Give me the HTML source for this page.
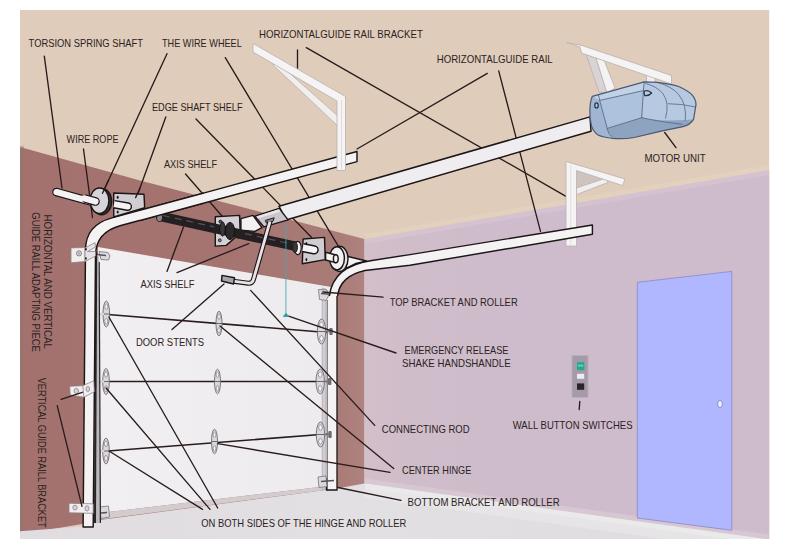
<!DOCTYPE html>
<html lang="en">
<head>
<meta charset="utf-8">
<title>Garage door structure diagram</title>
<style>
html,body{margin:0;padding:0;background:#fff;}
body{width:790px;height:548px;overflow:hidden;position:relative;font-family:"Liberation Sans",sans-serif;}
svg{position:absolute;left:0;top:0;display:block;}
svg text{font-family:"Liberation Sans",sans-serif;font-size:10.8px;fill:#2b2222;}
.ld{stroke:#2a1c1c;stroke-width:1.35;fill:none;stroke-linecap:round;}
.ol{stroke:#1c1616;stroke-width:1.45;stroke-linejoin:round;}
</style>
</head>
<body>
<svg width="790" height="548" viewBox="0 0 790 548">
<defs>
  <linearGradient id="gBrown" gradientUnits="userSpaceOnUse" x1="20" y1="0" x2="365" y2="0">
    <stop offset="0" stop-color="#a4726e"/>
    <stop offset="0.6" stop-color="#a57470"/>
    <stop offset="0.92" stop-color="#a97b77"/>
    <stop offset="1" stop-color="#ae8380"/>
  </linearGradient>
  <linearGradient id="gLav" gradientUnits="userSpaceOnUse" x1="365" y1="0" x2="769" y2="0">
    <stop offset="0" stop-color="#d3bfca"/>
    <stop offset="0.1" stop-color="#d0bdca"/>
    <stop offset="0.35" stop-color="#cebccc"/>
    <stop offset="1" stop-color="#cebccd"/>
  </linearGradient>
  <linearGradient id="gDoor" x1="0" y1="0" x2="1" y2="0">
    <stop offset="0" stop-color="#f1eff1"/>
    <stop offset="1" stop-color="#eeebef"/>
  </linearGradient>
  <linearGradient id="gFloor" x1="0" y1="0" x2="1" y2="0">
    <stop offset="0" stop-color="#e0dce0"/>
    <stop offset="0.45" stop-color="#e3e0e3"/>
    <stop offset="1" stop-color="#dfdcdf"/>
  </linearGradient>
  <clipPath id="r1c"><rect x="140" y="190" width="64" height="36"/></clipPath>
  <clipPath id="pic"><rect x="20" y="10" width="749.2" height="529"/></clipPath>
</defs>
<rect x="0" y="0" width="790" height="548" fill="#ffffff"/>
<g clip-path="url(#pic)">
<!-- BACKGROUND -->
<g id="bg">
  <rect x="20" y="10" width="750" height="530" fill="#dfccba"/>
  <!-- front (brown) wall -->
  <polygon points="20,147 140,180.5 364.4,239 364.4,485.5 100,521 20,534.5" fill="url(#gBrown)"/>
  <rect x="20" y="146" width="4" height="390" fill="#8c7868" opacity="0.4"/>
  <!-- right (lavender) wall -->
  <polygon points="364.4,239 770,170 770,540 364.4,483.5" fill="url(#gLav)"/>
  <!-- floor -->
  <polygon points="20,531.2 83,526.6 100,520 337,488.5 364.4,483.5 769,539.5 769,540 20,540" fill="url(#gFloor)"/>
  <!-- soft light bands at wall/floor and wall/ceiling junctions -->
  <path d="M365 490.5 L769 546.5" stroke="#ebe9eb" stroke-width="14" opacity="0.55" fill="none"/>
  <path d="M365 486 L769 542" stroke="#ecebec" stroke-width="5" opacity="0.8" fill="none"/>
  <path d="M365 481 L769 537" stroke="#dccfd9" stroke-width="5" opacity="0.55" fill="none"/>
  <path d="M365 241.5 L769 172.5" stroke="#d8c6d4" stroke-width="5" opacity="0.6" fill="none"/>
  <path d="M365 236.5 L769 167.5" stroke="#e6d2c0" stroke-width="5" opacity="0.6" fill="none"/>
</g>
<!-- GARAGE DOOR -->
<g id="door">
  <polygon points="98,247 337,288 337,485 100,513" fill="url(#gDoor)"/>
  <!-- shadow under door -->
  <polygon points="100,513 337,485 337,488.5 100,519.5" fill="#d3ccce"/>
  <!-- right edge band (track seen from side) -->
  <!-- section lines -->
  <path class="ld" style="stroke-width:1.6" d="M108 314.5 L327 332.5 M108 381.5 L327 381.5 M108 451 L327 434"/>
</g>
<!-- ROOM FIXTURES -->
<g id="fixtures">
  <polygon points="637.3,282.3 731.8,271.4 731.8,530.3 637.3,518" fill="#b0b7fe" stroke="#8d8fca" stroke-width="0.9"/>
  <ellipse cx="720" cy="404" rx="2.4" ry="3.6" fill="#eef0fb" stroke="#8086c8" stroke-width="0.9"/>
  <rect x="572" y="355.5" width="16" height="42" rx="0.8" fill="#a59aa7" stroke="#b9aeb9" stroke-width="0.9"/>
  <rect x="577" y="362.2" width="7.3" height="8" fill="#22a88c"/>
  <rect x="578" y="364.6" width="5.3" height="2" fill="#5fd0b8"/>
  <rect x="577" y="373.8" width="7.2" height="5" fill="#eeecf0"/>
  <rect x="577" y="383.4" width="7.2" height="6.4" fill="#2a2428"/>
</g>
<!-- DOOR HARDWARE -->
<g id="hardware">
  <polygon points="322.2,288 326,289 326,489 322.2,489.5" fill="#d2cdd3" stroke="#aaa4ab" stroke-width="0.7"/>
  <polygon points="327.3,294 337,294 337,490 327.3,490" fill="#f4f2f3"/>
  <path d="M327.3 300 L327.3 490" stroke="#4a4448" stroke-width="0.8" fill="none"/>
  <path d="M337 294 L337 490 L326.5 490 L326.5 478" stroke="#1c1616" stroke-width="1.3" fill="none"/>
  <g transform="translate(106.3,314)"><ellipse rx="3.3" ry="13" fill="#dcd9dd" stroke="#6f6b72" stroke-width="0.9"/><ellipse cy="-7.2" rx="1.5" ry="2.9" fill="#f4f2f4" stroke="#7d7980" stroke-width="0.7"/><ellipse cy="7.2" rx="1.5" ry="2.9" fill="#f4f2f4" stroke="#7d7980" stroke-width="0.7"/><path d="M-3.3 0 L3.3 0" stroke="#5f5b62" stroke-width="0.9"/></g>
  <g transform="translate(106,381.5)"><ellipse rx="3.3" ry="13" fill="#dcd9dd" stroke="#6f6b72" stroke-width="0.9"/><ellipse cy="-7.2" rx="1.5" ry="2.9" fill="#f4f2f4" stroke="#7d7980" stroke-width="0.7"/><ellipse cy="7.2" rx="1.5" ry="2.9" fill="#f4f2f4" stroke="#7d7980" stroke-width="0.7"/><path d="M-3.3 0 L3.3 0" stroke="#5f5b62" stroke-width="0.9"/></g>
  <g transform="translate(106,451)"><ellipse rx="3.3" ry="13" fill="#dcd9dd" stroke="#6f6b72" stroke-width="0.9"/><ellipse cy="-7.2" rx="1.5" ry="2.9" fill="#f4f2f4" stroke="#7d7980" stroke-width="0.7"/><ellipse cy="7.2" rx="1.5" ry="2.9" fill="#f4f2f4" stroke="#7d7980" stroke-width="0.7"/><path d="M-3.3 0 L3.3 0" stroke="#5f5b62" stroke-width="0.9"/></g>
  <g transform="translate(219,323.5)"><ellipse rx="3" ry="12.3" fill="#dcd9dd" stroke="#6f6b72" stroke-width="0.9"/><ellipse cy="-6.8" rx="1.4" ry="2.7" fill="#f4f2f4" stroke="#7d7980" stroke-width="0.7"/><ellipse cy="6.8" rx="1.4" ry="2.7" fill="#f4f2f4" stroke="#7d7980" stroke-width="0.7"/><path d="M-3 0 L3 0" stroke="#5f5b62" stroke-width="0.9"/></g>
  <g transform="translate(217.5,381.5)"><ellipse rx="3" ry="12.3" fill="#dcd9dd" stroke="#6f6b72" stroke-width="0.9"/><ellipse cy="-6.8" rx="1.4" ry="2.7" fill="#f4f2f4" stroke="#7d7980" stroke-width="0.7"/><ellipse cy="6.8" rx="1.4" ry="2.7" fill="#f4f2f4" stroke="#7d7980" stroke-width="0.7"/><path d="M-3 0 L3 0" stroke="#5f5b62" stroke-width="0.9"/></g>
  <g transform="translate(214.5,441.5)"><ellipse rx="3" ry="12.3" fill="#dcd9dd" stroke="#6f6b72" stroke-width="0.9"/><ellipse cy="-6.8" rx="1.4" ry="2.7" fill="#f4f2f4" stroke="#7d7980" stroke-width="0.7"/><ellipse cy="6.8" rx="1.4" ry="2.7" fill="#f4f2f4" stroke="#7d7980" stroke-width="0.7"/><path d="M-3 0 L3 0" stroke="#5f5b62" stroke-width="0.9"/></g>
  <g transform="translate(321.5,331.5)"><ellipse rx="4.2" ry="12.5" fill="#dcd9dd" stroke="#6f6b72" stroke-width="0.9"/><ellipse cy="-6.9" rx="1.9" ry="2.8" fill="#f4f2f4" stroke="#7d7980" stroke-width="0.7"/><ellipse cy="6.9" rx="1.9" ry="2.8" fill="#f4f2f4" stroke="#7d7980" stroke-width="0.7"/><path d="M-4.2 0 L4.2 0" stroke="#5f5b62" stroke-width="0.9"/></g>
  <rect x="329.3" y="328.0" width="3.4" height="7" rx="1" fill="#6f6b70"/>
  <path d="M324.5 331.5 L330.5 331.5" stroke="#77737a" stroke-width="1.6"/>
  <g transform="translate(320.2,381.5)"><ellipse rx="4.2" ry="12.5" fill="#dcd9dd" stroke="#6f6b72" stroke-width="0.9"/><ellipse cy="-6.9" rx="1.9" ry="2.8" fill="#f4f2f4" stroke="#7d7980" stroke-width="0.7"/><ellipse cy="6.9" rx="1.9" ry="2.8" fill="#f4f2f4" stroke="#7d7980" stroke-width="0.7"/><path d="M-4.2 0 L4.2 0" stroke="#5f5b62" stroke-width="0.9"/></g>
  <rect x="328.0" y="378.0" width="3.4" height="7" rx="1" fill="#6f6b70"/>
  <path d="M323.2 381.5 L329.2 381.5" stroke="#77737a" stroke-width="1.6"/>
  <g transform="translate(320.5,434.5)"><ellipse rx="4.2" ry="12.5" fill="#dcd9dd" stroke="#6f6b72" stroke-width="0.9"/><ellipse cy="-6.9" rx="1.9" ry="2.8" fill="#f4f2f4" stroke="#7d7980" stroke-width="0.7"/><ellipse cy="6.9" rx="1.9" ry="2.8" fill="#f4f2f4" stroke="#7d7980" stroke-width="0.7"/><path d="M-4.2 0 L4.2 0" stroke="#5f5b62" stroke-width="0.9"/></g>
  <rect x="328.3" y="431.0" width="3.4" height="7" rx="1" fill="#6f6b70"/>
  <path d="M323.5 434.5 L329.5 434.5" stroke="#77737a" stroke-width="1.6"/>
  <path d="M94 314 L104 314" stroke="#d9d6da" stroke-width="2.2"/>
  <path d="M94 381.5 L104 381.5" stroke="#d9d6da" stroke-width="2.2"/>
  <path d="M94 451 L104 451" stroke="#d9d6da" stroke-width="2.2"/>
  <path d="M99 251.5 L108 252.5 L110 256 L108.5 260 L101 259.5 Z" fill="#dcd9dc" stroke="#77737a" stroke-width="0.8"/>
  <path d="M96 254.5 L106 255.5" stroke="#55525a" stroke-width="1.4"/>
  <path d="M99.5 507 L108.5 506 L109.5 517 L101 518.5 Z" fill="#dcd9dc" stroke="#77737a" stroke-width="0.8"/>
  <path d="M95 513.5 L107 512.5" stroke="#55525a" stroke-width="1.4"/>
  <path d="M318.5 289.5 L327 290 L328.5 296 L326 300.5 L319.5 299.5 Z" fill="#dcd9dc" stroke="#77737a" stroke-width="0.8"/>
  <path d="M321 293.5 L334 294.5" stroke="#55525a" stroke-width="1.4"/>
  <path d="M318 477 L326 476 L327 486.5 L319 487.5 Z" fill="#dcd9dc" stroke="#77737a" stroke-width="0.8"/>
  <path d="M321 481.5 L334 480.5" stroke="#55525a" stroke-width="1.4"/>
</g>
<!-- LEADER LINES -->
<g id="leaders" class="ld">
  <path d="M44.3 56.2 L62 188"/>
  <path d="M167 53.7 L102.5 193.3"/>
  <path d="M225.3 57.7 L338 245.6"/>
  <path d="M165.8 117 L136.7 197"/>
  <path d="M196 119 L311.4 237.2"/>
  <path d="M83.5 149 L92.5 217.5"/>
  <path d="M185.5 174 L222 216"/>
  <path d="M167 271.4 L183.5 227"/>
  <path d="M177 272.6 L248.7 243.6"/>
  <path d="M172 329.6 L224 284"/>
  <path d="M297.5 50 L297.5 68.4"/>
  <path d="M306.3 47.6 L566 196.3"/>
  <path d="M487.3 73.4 L357 149"/>
  <path d="M498.7 70.9 L540.5 231.3"/>
  <path d="M676 147.7 L664.7 132.5"/>
  <path d="M396 353 L288.6 316.2"/>
  <path d="M250.6 290.4 L374.7 425.4"/>
  <path d="M220 326 L393.7 468.5"/>
  <path d="M217.7 443.7 L390 472.3"/>
  <path d="M338 487.5 L401 500.3"/>
  <path d="M108.9 317 L217.7 508"/>
  <path d="M106 388 L210 509.4"/>
  <path d="M109 451 L202.5 509.4"/>
  <path d="M579.8 401.5 L579.2 409.5"/>
</g>
<!-- CEILING BRACKETS -->
<g id="brackets" stroke="#b9b1b0" stroke-width="0.8" stroke-linejoin="round">
  <!-- right hanging bracket -->
  <polygon fill="#cdc3bf" stroke="none" points="576.5,170.5 603,178.6 576.5,189"/>
  <polygon fill="#f1eeef" points="576.5,188 606,178 608,182.5 576.5,194.5"/>
  <polygon fill="#f5f3f4" points="566,161.5 625,179 622.5,185.5 576.5,170.5 576.5,246 566,246"/>
  <path d="M570.7 164.5 L570.7 246" stroke="#dcd6d8" stroke-width="0.8" fill="none"/>
  <!-- motor bracket -->
  <polygon fill="#d9d3d6" points="586,54 596,58 607,93 599,92"/>
  <polygon fill="#f4f2f3" points="596,58 604,60 615,88 607,93"/>
  <polygon fill="#f0edee" points="646,74 655,77 655,86 647,85"/>
  <polygon fill="#f5f3f3" points="566.5,42.5 582,45.5 671.5,75.5 671.5,84 581.5,53 580,47"/>
</g>
<!-- RAILS -->
<g id="rails">
  <!-- left vertical channel -->
  <polygon points="95.3,255 98.6,255 100.6,523 93.2,523" fill="#bcb8bb"/>
  <path d="M96.2 252 L95 523" stroke="#2a2426" stroke-width="2" fill="none"/><path d="M99.2 262 L100.4 523" stroke="#2a2426" stroke-width="1.2" fill="none"/>
  <!-- left guide rail (vertical + curve + horizontal) -->
  <path id="rail1" class="ol" fill="#f4f2f3" d="M357 151.5 L220 188.6 L112 217.9 Q85.5 225 85.5 250 L83.1 527 L93.2 527 L95.5 255 Q96 232.5 120 225.8 L220 198.7 L357 161.6 Z"/>
  <!-- right guide rail -->
  <path fill="#f4f2f3" d="M592.4 225 L410 254.6 L372 260.5 Q333 266 329.4 296 L337.6 296 Q340 276 365 270.5 L410 265.3 L592.4 234.3 Z"/>
  <path class="ol" fill="none" d="M329.4 296 Q333 266 372 260.5 L410 254.6 L592.4 225 L592.4 234.3 L410 265.3 L365 270.5 Q340 276 337.6 296"/>
  <!-- central opener rail -->
  <polygon class="ol" fill="#efedef" points="279,206.2 590,116.9 591,131.2 286,220"/>
</g>
<!-- LEFT HANGING BRACKET (in front of rail) -->
<g id="bracket-left" stroke="#b9b1b0" stroke-width="0.8" stroke-linejoin="round">
  <polygon fill="#f1eeee" points="273,65 277,62 339,117 339,127"/>
  <polygon fill="#f5f3f3" points="253,43.5 345.5,96.5 345.5,170.5 337,170.5 337,101 253,52"/>
  <path d="M341.5 100 L341.5 170" stroke="#d9d3d4" stroke-width="0.8" fill="none"/>
</g>
<!-- WALL BRACKETS -->
<g id="wallbrackets" stroke="#8d8186" stroke-width="0.8" stroke-linejoin="round">
  <polygon fill="#f1eef0" points="71,247.9 85,247.5 85,261.6 71,262.7"/>
  <polygon fill="#e6e2e5" points="85,248 95,242.6 95.5,247 87.5,251.5 95.5,251.5 95.5,256 85,261.6"/>
  <circle cx="79" cy="253.4" r="2.6" fill="#cfcbd0" stroke="#7d777d"/>
  <circle cx="79" cy="253.4" r="1" fill="#a9a4aa" stroke="none"/>
  <ellipse cx="85.9" cy="249.3" rx="0.9" ry="1.2" fill="#1c1616" stroke="none"/><ellipse cx="85.9" cy="258.4" rx="0.9" ry="1.2" fill="#1c1616" stroke="none"/>
  <polygon fill="#f1eef0" points="69.7,386.3 82.8,385.7 93.8,380.8 94.3,391.7 83.9,397.2 70.2,395"/>
  <path d="M82.8 385.7 L83.9 397.2" fill="none"/>
  <ellipse cx="76.3" cy="391" rx="2.2" ry="2.6" fill="#d7d3d8"/><ellipse cx="87.8" cy="389" rx="1.8" ry="2.6" fill="#d7d3d8"/>
  <polygon fill="#f1eef0" points="69,503.3 93.2,503.8 93.2,513.3 69,512.8"/>
  <ellipse cx="75" cy="507.6" rx="2.2" ry="2.4" fill="#d7d3d8"/><ellipse cx="87" cy="508.4" rx="2" ry="2.6" fill="#d7d3d8"/>
</g>
<!-- SHAFT / SPRING / WHEELS -->
<g id="shaft">
  <!-- left shaft -->
  <path d="M56.5 192.1 L96 202.9" stroke="#1c1616" stroke-width="8.6" stroke-linecap="round" fill="none"/>
  <path d="M56.5 192.1 L96 202.9" stroke="#f4f2f3" stroke-width="6.2" stroke-linecap="round" fill="none"/>
  <!-- left wire wheel -->
  <ellipse cx="101.6" cy="201.6" rx="10" ry="13.2" fill="#3a3538" class="ol"/>
  <ellipse cx="99.5" cy="200.7" rx="9.4" ry="12.8" fill="#d6d4d8" class="ol"/>
  <path d="M86 198.9 L95.5 201.5" stroke="#1c1616" stroke-width="8.6" stroke-linecap="round" fill="none"/>
  <path d="M84 198.35 L95.5 201.5" stroke="#f4f2f3" stroke-width="6.2" stroke-linecap="round" fill="none"/>
  <!-- left edge bracket -->
  <polygon class="ol" fill="#d0ced3" points="113.7,193 144,194.3 144.7,207.8 113.7,217"/>
  <g transform="translate(114,204.2) rotate(10)"><path d="M0 -3.6 H14 A3.6 3.6 0 0 1 14 3.6 H0" fill="#f4f2f3" class="ol"/></g>
  <ellipse cx="117.7" cy="197.3" rx="1" ry="1.5" fill="#1c1616"/><ellipse cx="117.7" cy="212" rx="1" ry="1.5" fill="#1c1616"/>
  <!-- torsion spring -->
  <path d="M161 216.5 L296 246.4" stroke="#242022" stroke-width="9.6" fill="none" stroke-linecap="round"/>
  <path d="M163 215.5 L296 245" stroke="#55525a" stroke-width="1.2" fill="none" stroke-dasharray="7 5"/>
  <ellipse cx="159.5" cy="217" rx="3" ry="4.6" fill="#8a878c" stroke="#242022" stroke-width="1"/>
  <use href="#rail1" clip-path="url(#r1c)"/>
  <!-- rail tail behind centre plate -->
  <polygon class="ol" fill="#f2f0f2" points="240.9,218.6 253,215.4 261.9,227.6 254.9,231.4 240.9,230.1"/>
  <!-- centre bearing plate -->
  <polygon class="ol" fill="#d3d1d6" points="215.3,216.7 239.6,215.4 240.2,233.3 226.2,245.4 215.3,246.1"/>
  <path d="M214 228.2 L242 234.4" stroke="#242022" stroke-width="9.6" fill="none"/>
  <ellipse cx="230" cy="231" rx="4.6" ry="8.6" fill="#2b282c" stroke="#141214" stroke-width="1"/>
  <ellipse cx="222.5" cy="229" rx="2.6" ry="7.2" fill="#3a373c" stroke="#141214" stroke-width="0.8"/>
  <circle cx="220.4" cy="221.6" r="1.5" fill="#55525a" stroke="#141214" stroke-width="0.8"/>
  <circle cx="219.8" cy="240.3" r="1.5" fill="#8a878c" stroke="#141214" stroke-width="0.8"/>
  <!-- header bracket of opener rail -->
  <polygon class="ol" fill="#c9c7cc" points="254.9,216.1 279.2,208.4 288.1,219.9 263.9,226.9"/>
  <polygon fill="#e9e7ea" points="256.5,216.4 279,209.3 280.6,211.4 258,218.6"/>
  <polygon fill="#8e8b90" stroke="#1c1616" stroke-width="1" points="265.2,220.4 274.2,217.8 273,221.2 266.6,223.2"/>
  <!-- connecting rod -->
  <path d="M270 221.5 L253.6 279 Q252.6 283.6 248 283.2 L233 281.2" stroke="#1c1616" stroke-width="5" fill="none" stroke-linecap="butt" stroke-linejoin="round"/>
  <path d="M270 221.5 L253.6 279 Q252.6 283.6 248 283.2 L233 281.2" stroke="#e7e3e5" stroke-width="2.8" fill="none" stroke-linejoin="round"/>
  <polygon class="ol" fill="#a9a6aa" points="222,275.4 234.5,277.8 233.5,284 221.5,281"/>
  <!-- emergency release cord -->
  <path d="M285.9 223 L285.9 315" stroke="#45a7b2" stroke-width="1" fill="none" opacity="0.85"/>
  <path d="M283.4 316.4 L288.6 316.4 L286 313.4 Z" fill="#2f9aa6" stroke="#2f9aa6" stroke-width="1"/>
  <!-- spring right end cap -->
  <ellipse cx="297.8" cy="248" rx="3.4" ry="6.6" fill="#f2f0f2" stroke="#1c1616" stroke-width="1.2"/>
  <ellipse cx="295" cy="247.2" rx="2.4" ry="5.4" fill="#3a373c" stroke="#1c1616" stroke-width="1"/>
  <!-- right edge bracket -->
  <polygon class="ol" fill="#cfcdd2" points="303.1,239 324.5,237.4 325.3,259.6 302.3,263.7"/>
  <g transform="translate(302.9,247.6) rotate(11.5)"><path d="M0 -3.9 H11.5 A3.9 3.9 0 0 1 11.5 3.9 H0" fill="#f4f2f3" class="ol"/></g>
  <ellipse cx="306.4" cy="243.6" rx="0.9" ry="1.6" fill="#1c1616"/><ellipse cx="306.4" cy="259.6" rx="0.9" ry="1.6" fill="#1c1616"/>
  <!-- right shaft stub and wire wheel -->
  <polygon class="ol" fill="#f4f2f3" points="345,255.8 366.5,261 356,263.5 347,268 343,262"/>
  <ellipse cx="339.6" cy="258.8" rx="8.4" ry="12.6" fill="#e4e2e5" class="ol"/>
  <ellipse cx="337" cy="258.3" rx="7.4" ry="11.6" fill="#f1eff1" class="ol"/>
  <path d="M325.6 252.2 L336 255 L335.4 262.6 L325.6 260 Z" fill="#f4f2f3" class="ol"/>
  <ellipse cx="335.8" cy="258.8" rx="2.4" ry="4" fill="#f4f2f3" class="ol"/>
</g>
<!-- MOTOR UNIT -->
<g id="motor" stroke-linejoin="round" stroke-linecap="round">
  <path fill="#adc2dc" stroke="none" d="M592.3 96.3 L644.2 81.8 L657.3 82.3 Q672.2 84.0 678.7 86.5 Q687.8 90.6 691.9 94.7 Q696.0 99.6 696.0 104.6 L693.5 119.4 Q690.3 125.1 682.0 126.8 L662.3 130.9 L634.3 137.5 Q622.8 139.4 612.9 138.3 Q603.0 137.5 598.1 135.0 Q593.2 131.7 591.5 125.9 Q589.5 117.7 589.9 111.1 Q589.9 102.1 592.3 96.3 Z"/>
  <path fill="#b6c9e0" stroke="none" d="M644.2 81.8 L657.3 82.3 Q672.2 84.0 678.7 86.5 Q687.8 90.6 691.9 94.7 Q696.0 99.6 696.0 104.6 L693.5 119.4 Q659.0 122.3 641.7 117.7 L643.4 90.6 Z"/>
  <path fill="#c2d2e6" stroke="none" d="M592.3 96.3 L644.2 81.8 L643.4 90.6 L599.7 100.4 Z"/>
  <path fill="#9fb5d2" stroke="none" d="M592.3 96.3 L599.7 100.4 L607.2 128.4 L611.3 136.6 Q603.0 137.5 598.1 135.0 Q593.2 131.7 591.5 125.9 Q589.5 117.7 589.9 111.1 Q589.9 102.1 592.3 96.3 Z"/>
  <path fill="#8ea3c0" stroke="none" d="M607.2 128.4 L641.7 117.7 Q659.0 122.3 693.5 119.4 Q690.3 125.1 682.0 126.8 L662.3 130.9 L634.3 137.5 Q622.8 139.4 612.9 138.3 L611.3 136.6 Z"/>
  <path fill="none" stroke="#5b6c86" stroke-width="0.9" d="M599.7 100.4 L643.4 90.6 M598.4 95.0 Q599.4 98.0 599.7 100.4 L607.2 128.4 Q608.0 134.2 611.6 136.6 M644.2 81.8 L643.4 90.6 L641.7 117.7 M607.2 128.4 L641.7 117.7 M641.7 117.7 Q657.3 121.3 682.0 124.3"/>
  <path fill="none" stroke="#60728c" stroke-width="0.9" d="M645.8 83.5 Q657.3 86.5 663.1 93.9 Q669.7 102.9 665.6 118.1 M657.3 82.3 Q672.2 86.5 678.7 94.7 Q687.0 104.6 685.3 120.2 M668.0 103.7 Q682.0 103.7 695.5 107.0"/>
  <path fill="none" stroke="#4a5a72" stroke-width="1.2" d="M592.3 96.3 L644.2 81.8 L657.3 82.3 Q672.2 84.0 678.7 86.5 Q687.8 90.6 691.9 94.7 Q696.0 99.6 696.0 104.6 L693.5 119.4 Q690.3 125.1 682.0 126.8 L662.3 130.9 L634.3 137.5 Q622.8 139.4 612.9 138.3 Q603.0 137.5 598.1 135.0 Q593.2 131.7 591.5 125.9 Q589.5 117.7 589.9 111.1 Q589.9 102.1 592.3 96.3 Z"/>
  <ellipse cx="596.5" cy="105.4" rx="1.7" ry="2.5" fill="#b9cbe2" stroke="#27334a" stroke-width="1.3"/>
  <path d="M644.4 91 Q648.5 89.6 651.6 93 Q648.6 96.2 644.8 95.6 Q643.4 93.4 644.4 91 Z" fill="#b9cbe2" stroke="#27334a" stroke-width="1.3"/>
</g>
<!-- LEADER ENDS DRAWN OVER PARTS -->
<g id="leaders-top" class="ld">
  <path d="M108.6 180 L102.5 193.3"/>
  <path d="M140 188 L135.6 197.6"/>
  <path d="M61 399.4 L82.3 392.3"/>
  <path d="M57.2 405.7 L82 506.4"/>
  <path d="M383 297.2 L322.8 292"/>
</g>
<!-- LABELS -->
<g id="labels">
  <text x="28.6" y="46.8" textLength="114.4" lengthAdjust="spacingAndGlyphs">TORSION SPRING SHAFT</text>
  <text x="162" y="46.8" textLength="79.8" lengthAdjust="spacingAndGlyphs">THE WIRE WHEEL</text>
  <text x="259" y="38" textLength="163.8" lengthAdjust="spacingAndGlyphs">HORIZONTALGUIDE RAIL BRACKET</text>
  <text x="436.7" y="63.3" textLength="116" lengthAdjust="spacingAndGlyphs">HORIZONTALGUIDE RAIL</text>
  <text x="151.9" y="111.4" textLength="90.6" lengthAdjust="spacingAndGlyphs">EDGE SHAFT SHELF</text>
  <text x="66.6" y="142.7" textLength="51.9" lengthAdjust="spacingAndGlyphs">WIRE ROPE</text>
  <text x="164" y="168.3" textLength="53" lengthAdjust="spacingAndGlyphs">AXIS SHELF</text>
  <text x="140.5" y="287.8" textLength="53.9" lengthAdjust="spacingAndGlyphs">AXIS SHELF</text>
  <text x="136" y="346" textLength="68" lengthAdjust="spacingAndGlyphs">DOOR STENTS</text>
  <text x="389.7" y="305.6" textLength="128" lengthAdjust="spacingAndGlyphs">TOP BRACKET AND ROLLER</text>
  <text x="404.6" y="353.7" textLength="103.8" lengthAdjust="spacingAndGlyphs">EMERGENCY RELEASE</text>
  <text x="402" y="367" textLength="108.6" lengthAdjust="spacingAndGlyphs">SHAKE HANDSHANDLE</text>
  <text x="381.8" y="432.5" textLength="87.8" lengthAdjust="spacingAndGlyphs">CONNECTING ROD</text>
  <text x="402" y="473.5" textLength="69.4" lengthAdjust="spacingAndGlyphs">CENTER HINGE</text>
  <text x="407.6" y="505.7" textLength="152" lengthAdjust="spacingAndGlyphs">BOTTOM BRACKET AND ROLLER</text>
  <text x="201.3" y="527.3" textLength="205" lengthAdjust="spacingAndGlyphs">ON BOTH SIDES OF THE HINGE AND ROLLER</text>
  <text x="512.7" y="428.5" textLength="119.8" lengthAdjust="spacingAndGlyphs">WALL BUTTON SWITCHES</text>
  <text x="644.4" y="162.2" textLength="61.3" lengthAdjust="spacingAndGlyphs">MOTOR UNIT</text>
  <text transform="translate(43.5,214.6) rotate(90)" textLength="134.3" lengthAdjust="spacingAndGlyphs">HORIZONTAL AND VERTICAL</text>
  <text transform="translate(31.8,212.3) rotate(90)" textLength="139.5" lengthAdjust="spacingAndGlyphs">GUIDE RAILL ADAPTING PIECE</text>
  <text transform="translate(38.2,377.7) rotate(90)" textLength="150" lengthAdjust="spacingAndGlyphs">VERTICAL GUIDE RAILL BRACKET</text>
</g>
</g>
</svg>
</body>
</html>
